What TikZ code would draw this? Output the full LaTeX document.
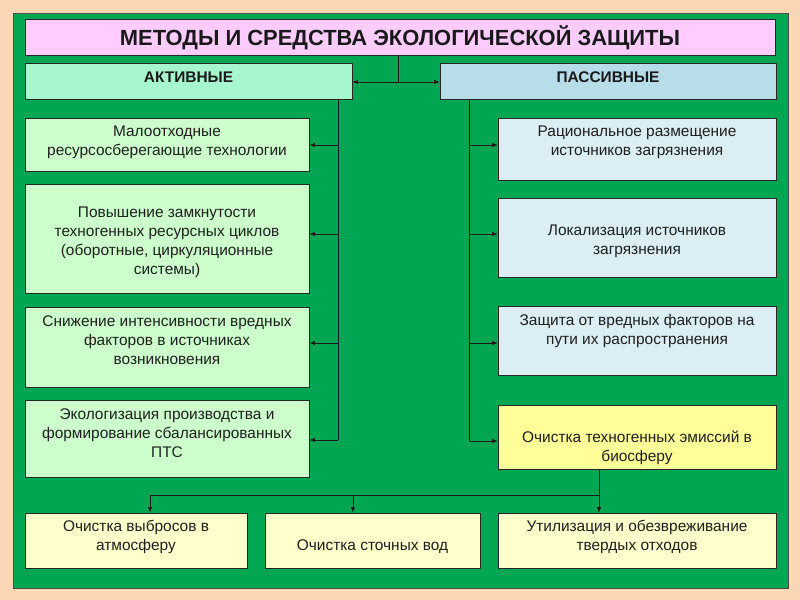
\documentclass[tikz,border=0pt]{standalone}
\usepackage{fontspec}
\setmainfont{Liberation Sans}
\usetikzlibrary{arrows.meta}
\definecolor{peach}{HTML}{FCD7B6}
\definecolor{bggreen}{HTML}{00A651}
\definecolor{titlepink}{HTML}{FFCCFF}
\definecolor{actmint}{HTML}{A6F7CE}
\definecolor{leftgreen}{HTML}{CCFFCC}
\definecolor{pasblue}{HTML}{B7DDE8}
\definecolor{rightblue}{HTML}{DAEEF3}
\definecolor{hiyellow}{HTML}{FFFF99}
\definecolor{lowyellow}{HTML}{FFFFCC}
\tikzset{
  box/.style={draw=black!85, line width=0.8bp, inner sep=0pt, minimum width=#1},
  txt/.style={align=center, font=\fontsize{15.5}{19}\selectfont, text=black!88, inner sep=0pt},
  head/.style={font=\bfseries\fontsize{15.5}{18}\selectfont, text=black!90, inner sep=0pt},
  conn/.style={draw=black!90, line width=0.8bp},
  arr/.style={conn, -{Latex[length=5.5bp,width=4.5bp]}}
}
\begin{document}
\begin{tikzpicture}[x=1bp,y=-1bp]
\useasboundingbox (0,0) rectangle (800,600);
\fill[peach] (0,0) rectangle (800,600);
\fill[bggreen] (13,13) rectangle (788,588);
\draw[black!70, line width=0.6bp] (13,13) rectangle (788,588);
% title and heads
\node[box=750bp, minimum height=36bp, fill=titlepink] (title) at (400,37.5) {};
\node[font=\bfseries\fontsize{22}{26}\selectfont, text=black!90, inner sep=0pt] (titletxt) at (400,38) {МЕТОДЫ И СРЕДСТВА ЭКОЛОГИЧЕСКОЙ ЗАЩИТЫ};
\node[box=327bp, minimum height=36bp, fill=actmint] (act) at (188.5,81) {};
\node[head] (acttxt) at (188.5,77) {АКТИВНЫЕ};
\node[box=336bp, minimum height=36bp, fill=pasblue] (pas) at (608,81) {};
\node[head] (pastxt) at (608,77) {ПАССИВНЫЕ};
% left column
\node[box=284bp, minimum height=53bp, fill=leftgreen] (l1) at (167,144.5) {};
\node[txt] (l1t) at (167,142) {Малоотходные\\ресурсосберегающие технологии};
\node[box=284bp, minimum height=109bp, fill=leftgreen] (l2) at (167,238.5) {};
\node[txt] (l2t) at (167,242) {Повышение замкнутости\\техногенных ресурсных циклов\\(оборотные, циркуляционные\\системы)};
\node[box=284bp, minimum height=80bp, fill=leftgreen] (l3) at (167,347) {};
\node[txt] (l3t) at (167,340) {Снижение интенсивности вредных\\факторов в источниках\\возникновения};
\node[box=284bp, minimum height=77bp, fill=leftgreen] (l4) at (167,438.5) {};
\node[txt] (l4t) at (167,433) {Экологизация производства и\\формирование сбалансированных\\ПТС};
% right column
\node[box=278bp, minimum height=62bp, fill=rightblue] (r1) at (637,149) {};
\node[txt] (r1t) at (637,142) {Рациональное размещение\\источников загрязнения};
\node[box=278bp, minimum height=79bp, fill=rightblue] (r2) at (637,237.5) {};
\node[txt] (r2t) at (637,241) {Локализация источников\\загрязнения};
\node[box=278bp, minimum height=69bp, fill=rightblue] (r3) at (637,340.5) {};
\node[txt] (r3t) at (637,331) {Защита от вредных факторов на\\пути их распространения};
\node[box=278bp, minimum height=64bp, fill=hiyellow] (r4) at (637,437) {};
\node[txt] (r4t) at (637,448) {Очистка техногенных эмиссий в\\биосферу};
% bottom row
\node[box=222bp, minimum height=55bp, fill=lowyellow] (b1) at (136,540.5) {};
\node[txt] (b1t) at (136,537) {Очистка выбросов в\\атмосферу};
\node[box=215bp, minimum height=55bp, fill=lowyellow] (b2) at (372.5,540.5) {};
\node[txt] (b2t) at (372.5,547) {Очистка сточных вод};
\node[box=278bp, minimum height=55bp, fill=lowyellow] (b3) at (637,540.5) {};
\node[txt] (b3t) at (637,537) {Утилизация и обезвреживание\\твердых отходов};
% connectors top
\coordinate (j) at (398,82);
\draw[conn] (title.south -| j) -- (j);
\draw[arr] (j) -- (act.east |- j);
\draw[arr] (j) -- (pas.west |- j);
% left spine
\coordinate (ls) at (338,440);
\draw[conn] (act.south -| ls) -- (ls);
\draw[arr] (338,145) -- (l1.east |- 0,145);
\draw[arr] (338,234) -- (l2.east |- 0,234);
\draw[arr] (338,343) -- (l3.east |- 0,343);
\draw[arr] (ls) -- (l4.east |- ls);
% right spine
\coordinate (rs) at (469,441);
\draw[conn] (pas.south -| rs) -- (rs);
\draw[arr] (469,145) -- (r1.west |- 0,145);
\draw[arr] (469,234) -- (r2.west |- 0,234);
\draw[arr] (469,343) -- (r3.west |- 0,343);
\draw[arr] (rs) -- (r4.west |- rs);
% bottom distribution
\coordinate (bj) at (599,495);
\coordinate (bl) at (150,495);
\coordinate (bm) at (353,495);
\draw[conn] (r4.south -| bj) -- (bj) -- (bl);
\draw[arr] (bl) -- (b1.north -| bl);
\draw[arr] (bm) -- (b2.north -| bm);
\draw[arr] (bj) -- (b3.north -| bj);
\end{tikzpicture}
\end{document}
